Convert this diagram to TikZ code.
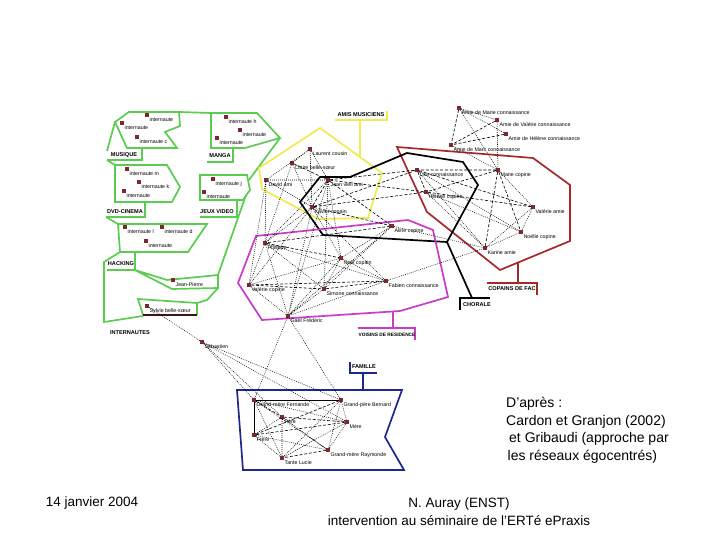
\documentclass[tikz,border=0pt]{standalone}
\usepackage{fontspec}
\setmainfont{Liberation Sans}
\usetikzlibrary{positioning}
\definecolor{frgreen}{RGB}{90,205,80}
\definecolor{fryellow}{RGB}{240,235,80}
\definecolor{frred}{RGB}{165,40,45}
\definecolor{frpurple}{RGB}{200,60,200}
\definecolor{frblue}{RGB}{30,40,140}
\definecolor{nodered}{RGB}{125,40,45}
\definecolor{labdark}{RGB}{60,20,20}

\begin{document}
\begin{tikzpicture}[x=1pt, y=-1pt,
  frame/.style={line width=1.7pt, line join=miter},
  person/.style={rectangle, fill=nodered, minimum size=3.6pt, inner sep=0pt,
    label={[lab, anchor=north west, inner sep=0.4pt]south east:#1}},
  lab/.style={font=\fontsize{5.3}{6}\selectfont},
  grouptitle/.style={font=\bfseries\fontsize{5.6}{7}\selectfont, inner sep=0.5pt},
  dashedge/.style={line width=0.6pt, dash pattern=on 3pt off 1.8pt},
  dotedge/.style={line width=0.55pt, dash pattern=on 0.8pt off 1.2pt},
  tie/.style={line width=0.7pt},
  caption/.style={font=\fontsize{14}{17.5}\selectfont, align=left, inner sep=0pt},
  footer/.style={font=\fontsize{13.5}{18}\selectfont, inner sep=0pt}
]
\path[use as bounding box, fill=white] (0,0) rectangle (720,540);

% group frames
\draw[frame, frgreen] (115,122) -- (129,112) -- (179,112) -- (180,126) -- (165,132) -- (177,148) -- (127,148) -- cycle;
\draw[frame, frgreen] (179,112) -- (211,113);
\draw[frame, frgreen] (211,113) -- (257,113) -- (280,138) -- (245,148) -- (211,148) -- cycle;
\draw[frame, frgreen] (115,122) -- (107,151);
\draw[frame, frgreen] (107,160) -- (142,160) -- (142,148);
\draw[frame, frgreen] (207,162) -- (233,162) -- (233,148);
\draw[frame, frgreen] (107,160) -- (115,165);
\draw[frame, frgreen] (115,165) -- (167,165) -- (180,187) -- (172,202) -- (115,202) -- cycle;
\draw[frame, frgreen] (106,217) -- (145,217) -- (145,202);
\draw[frame, frgreen] (200,175) -- (247,175) -- (250,190) -- (243,200) -- (200,200) -- cycle;
\draw[frame, frgreen] (200,217) -- (237,217) -- (237,200);
\draw[frame, frgreen] (280,138) -- (249,180);
\draw[frame, frgreen] (246,195) -- (218,275);
\draw[frame, frgreen] (106,217) -- (118,224);
\draw[frame, frgreen] (118,224) -- (207,224) -- (188,252) -- (120,252) -- cycle;
\draw[frame, frgreen] (107,270) -- (135,270) -- (135,252);
\draw[frame, frgreen] (120,252) -- (104,262) -- (104,322) -- (143,316);
\draw[frame, frgreen] (135,270) -- (167,280) -- (218,275) -- (218,288) -- (172,289) -- cycle;
\draw[frame, frgreen] (218,288) -- (207,300) -- (197,303);
\draw[frame, frgreen] (143,315) -- (138,299) -- (197,303) -- (197,315);
\draw[frame, labdark] (197,315) -- (143,315);

\draw[frame, fryellow] (320,128) -- (382,173) -- (368,218) -- (318,219) -- (262,189) -- (259,168) -- cycle;
\draw[frame, fryellow] (360,157) -- (360,120);
\draw[frame, fryellow] (335,120) -- (387,120) -- (387,111);

\draw[frame, frred] (397,147) -- (533,158) -- (570,185) -- (570,241) -- (500,270) -- (427,212) -- cycle;
\draw[frame, frred] (518,263) -- (518,283);
\draw[frame, frred] (487,283) -- (537,283) -- (537,295);

\draw[frame, black] (320,177) -- (350,177) -- (407,153) -- (463,162) -- (478,185) -- (447,242) -- (323,235) -- (300,202) -- cycle;
\draw[frame, black] (447,242) -- (472,298);
\draw[frame, black] (460,310) -- (460,298) -- (490,298);

\draw[frame, frpurple] (256,236) -- (408,220) -- (433,230) -- (448,297) -- (400,311) -- (262,320) -- (238,283) -- cycle;
\draw[frame, frpurple] (393,312) -- (393,328);
\draw[frame, frpurple] (358,328) -- (415,328) -- (415,340);

\draw[frame, frblue] (237,390) -- (402,390) -- (385,437) -- (404,470) -- (243,470) -- cycle;
\draw[frame, frblue] (363,390) -- (363,373);
\draw[frame, frblue] (350,362) -- (350,373) -- (377,373);

% group titles
\node[grouptitle] (musique) at (124,155) {MUSIQUE};
\node[grouptitle] (manga) at (220,156) {MANGA};
\node[grouptitle] (dvd) at (125,212) {DVD-CINEMA};
\node[grouptitle] (jeux) at (217,212) {JEUX VIDEO};
\node[grouptitle] (hacking) at (121,264) {HACKING};
\node[grouptitle] (internautes) at (130,333) {INTERNAUTES};
\node[grouptitle] (amis) at (361,115) {AMIS MUSICIENS};
\node[grouptitle] (copains) at (512,289) {COPAINS DE FAC};
\node[grouptitle] (chorale) at (477,305) {CHORALE};
\node[grouptitle, font=\bfseries\fontsize{4.8}{6}\selectfont] (voisins) at (387,335) {VOISINS DE RESIDENCE};
\node[grouptitle] (famille) at (364,367) {FAMILLE};

% internautes
\node[person=internaute] (m1) at (147,115) {};
\node[person=internaute] (m2) at (122,123) {};
\node[person=internaute c] (m3) at (137,137) {};
\node[person=internaute h] (g1) at (226,117) {};
\node[person=internaute] (g2) at (240,130) {};
\node[person=internaute] (g3) at (217,138) {};
\node[person=internaute m] (d1) at (127,169) {};
\node[person=internaute k] (d2) at (139,182) {};
\node[person=internaute] (d3) at (124,191) {};
\node[person=internaute j] (j1) at (213,179) {};
\node[person=internaute] (j2) at (204,192) {};
\node[person=internaute l] (h1) at (125,227) {};
\node[person=internaute d] (h2) at (162,227) {};
\node[person=internaute] (h3) at (146,241) {};
\node[person=Jean-Pierre] (jp) at (173,280) {};
\node[person=Sylvie belle-sœur] (syl) at (147,306) {};
\node[person=Sébastien] (seb) at (202,342) {};

% amis musiciens
\node[person=Laurent cousin] (y1) at (310,149) {};
\node[person=Claire belle-sœur] (y2) at (292,163) {};
\node[person=David ami] (y3) at (266,180) {};
\node[person=Jean vieil ami] (y4) at (328,180) {};
\node[person=Xavier copain] (y5) at (312,207) {};

% copains de fac
\node[person=Amie de Marie connaissance] (r1) at (459,108) {};
\node[person=Amie de Valérie connaissance] (r2) at (497,120) {};
\node[person=Amie de Hélène connaissance] (r3) at (506,134) {};
\node[person=Amie de Marc connaissance] (r4) at (451,145) {};
\node[person=Marie copine] (r5) at (498,170) {};
\node[person=Lise connaissance] (r6) at (417,170) {};
\node[person=Hélène copine] (r7) at (426,192) {};
\node[person=Valérie amie] (r8) at (533,207) {};
\node[person=Noëlle copine] (r9) at (521,232) {};
\node[person=Karine amie] (r10) at (485,248) {};

% voisins
\node[person=Aline copine] (v1) at (392,226) {};
\node[person=Philippe] (v2) at (265,243) {};
\node[person=Noël copain] (v3) at (341,258) {};
\node[person=Valérie copine] (v4) at (249,285) {};
\node[person=Simone connaissance] (v5) at (324,289) {};
\node[person=Fabien connaissance] (v6) at (386,281) {};
\node[person=Gaël Frédéric] (v7) at (288,316) {};

% famille
\node[person=Grand-mère Fernande] (f1) at (254,400) {};
\node[person=Grand-père Bernard] (f2) at (341,400) {};
\node[person=Père] (f3) at (282,417) {};
\node[person=Mère] (f4) at (347,422) {};
\node[person=Frère] (f5) at (254,435) {};
\node[person=Grand-mère Raymonde] (f6) at (328,450) {};
\node[person=Tante Lucie] (f7) at (282,458) {};

% ties
\draw[dotedge] (y1) -- (y2) (y1) -- (y3) (y1) -- (y4) (y2) -- (y5) (y3) -- (y5) (y3) -- (y4) (y1) -- (y5);
\draw[dashedge] (y2) -- (y4) (y4) -- (y5);
\draw[dashedge] (y4) -- (r6) (y4) -- (r7) (y5) -- (r6) (y5) -- (r7) (y4) -- (v1) (y5) -- (v1);
\draw[dotedge] (y4) -- (v2) (y4) -- (v3) (y4) -- (v5) (y4) -- (v7) (y5) -- (v2) (y5) -- (v3)
  (y5) -- (v4) (y5) -- (v6) (y5) -- (v7) (y3) -- (v4) (y3) -- (v2) (y2) -- (v2);

\draw[dotedge] (r1) -- (r2) (r1) -- (r5) (r1) -- (r3) (r4) -- (r5) (r2) -- (r5);
\draw[dashedge] (r1) -- (r4) (r2) -- (r4) (r3) -- (r4);
\draw[dashedge] (r5) -- (r6) (r5) -- (r7) (r5) -- (r9) (r5) -- (r10) (r6) -- (r7) (r6) -- (r8) (r7) -- (r8);
\draw[dotedge] (r5) -- (r8) (r6) -- (r9) (r6) -- (r10) (r7) -- (r9) (r7) -- (r10) (r8) -- (r10) (r9) -- (r10) (r8) -- (r9);
\draw[dotedge] (v6) -- (r10) (v1) -- (r10);

\draw[dashedge] (v1) -- (v2) (v2) -- (v3) (v4) -- (v5) (v5) -- (v6) (v4) -- (v6);
\draw[dotedge] (v1) -- (v3) (v1) -- (v5) (v1) -- (v7) (v2) -- (v4) (v2) -- (v5) (v2) -- (v7) (v2) -- (v6)
  (v3) -- (v4) (v3) -- (v5) (v3) -- (v6) (v3) -- (v7) (v4) -- (v7) (v5) -- (v7) (v6) -- (v7);

\draw[tie] (f1) -- (f2) (f1) -- (f5);
\draw[dashedge] (f1) -- (f3) (f2) -- (f5) (f3) -- (f4) (f4) -- (f5) (f6) -- (f7);
\draw[dotedge] (f1) -- (f4) (f1) -- (f6) (f1) -- (f7) (f2) -- (f4) (f2) -- (f6) (f2) -- (f7) (f3) -- (f5)
  (f3) -- (f6) (f3) -- (f7) (f4) -- (f6) (f4) -- (f7) (f5) -- (f6) (f5) -- (f7);
\draw[dotedge] (syl) -- (seb) (seb) -- (f1) (seb) -- (f2) (seb) -- (f3) (seb) -- (f4) (v7) -- (f1) (v7) -- (f2);

% texts
\node[caption, anchor=north west] (source) at (506,397) {D'après :\\Cardon et Granjon (2002)\\\hspace*{3pt}et Gribaudi (approche par\\\hspace*{1.5pt}les réseaux égocentrés)};
\node[footer] (date) at (92,503) {14 janvier 2004};
\node[footer, align=center] (author) at (459,512) {N. Auray (ENST)\\intervention au séminaire de l'ERTé ePraxis};
\end{tikzpicture}
\end{document}
